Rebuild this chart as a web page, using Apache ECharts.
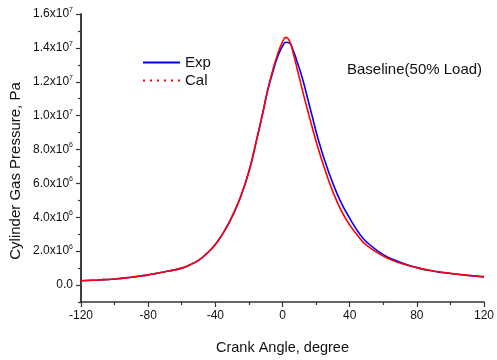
<!DOCTYPE html>
<html>
<head>
<meta charset="utf-8">
<script src="https://cdn.jsdelivr.net/npm/echarts@6/dist/echarts.min.js"></script>
<style>
html, body { margin: 0; padding: 0; background: #fff; }
#chart { width: 497px; height: 360px; }
</style>
</head>
<body>
<div id="chart"></div>
<script>
// crank angle, degree
var angles = [-120, -110, -100, -90, -85, -80, -75, -70, -65, -60, -55, -50, -45, -40, -35, -30, -25, -20, -15, -12, -9, -6, -3,
    0, 2, 4, 6, 9, 12, 15, 18, 21, 25, 30, 35, 40, 45, 50, 60, 70, 80, 90, 100, 110, 120];
// cylinder pressure, x10^6 Pa
var expVals = [0.25, 0.30, 0.36, 0.46, 0.53, 0.60, 0.69, 0.79, 0.88, 1.00, 1.20, 1.46, 1.87, 2.40, 3.12, 4.05, 5.2, 6.7, 8.75, 10.05, 11.4, 12.5, 13.45,
    14.1, 14.33, 14.3, 13.95, 13.1, 12.15, 11.0, 9.85, 8.7, 7.4, 6.0, 4.85, 3.95, 3.15, 2.55, 1.8, 1.35, 1.03, 0.82, 0.68, 0.57, 0.48];
var calVals = [0.25, 0.30, 0.36, 0.46, 0.53, 0.60, 0.69, 0.79, 0.88, 1.00, 1.20, 1.46, 1.87, 2.40, 3.12, 4.05, 5.2, 6.7, 8.75, 10.05, 11.45, 12.6, 13.6,
    14.35, 14.62, 14.45, 13.85, 12.65, 11.45, 10.3, 9.2, 8.15, 6.9, 5.5, 4.4, 3.55, 2.9, 2.35, 1.72, 1.3, 1.03, 0.83, 0.69, 0.58, 0.50];
var yMajor = [0, 2e6, 4e6, 6e6, 8e6, 1e7, 1.2e7, 1.4e7, 1.6e7];
var yMinor = [-1e6, 1e6, 3e6, 5e6, 7e6, 9e6, 1.1e7, 1.3e7, 1.5e7];

var font = 'Liberation Sans, Arial, sans-serif';
var axisColor = '#333';

function pairs(vals) {
    return angles.map(function (a, i) { return [a, vals[i] * 1e6]; });
}

// 1.6x10^7 style labels
function sciLabel(v) {
    if (v === 0) return '{a|0.0}';
    var e = Math.floor(Math.log10(v) + 1e-9);
    var m = v / Math.pow(10, e);
    return '{a|' + m.toFixed(1) + 'x10}{s|' + e + '}';
}

var chart = echarts.init(document.getElementById('chart'));
var option = {
    animation: false,
    grid: { left: 81, right: 10, top: 14, bottom: 48 },
    legend: {
        left: 137,
        top: 50,
        orient: 'vertical',
        itemWidth: 37,
        itemHeight: 10,
        itemGap: 3,
        itemStyle: { opacity: 0 },
        textStyle: { fontFamily: font, fontSize: 15, color: '#111' },
        data: [
            { name: 'Exp' },
            { name: 'Cal', lineStyle: { type: [2, 5] } }
        ]
    },
    xAxis: {
        type: 'value',
        min: -120,
        max: 120,
        interval: 40,
        name: 'Crank Angle, degree',
        nameLocation: 'middle',
        nameGap: 38,
        nameTextStyle: { fontFamily: font, fontSize: 14.5, color: '#111' },
        axisLine: { show: true, onZero: false, lineStyle: { color: axisColor, width: 1.5 } },
        axisTick: { show: true, length: 5, lineStyle: { color: axisColor, width: 1.2 } },
        minorTick: { show: true, splitNumber: 2, length: 3, lineStyle: { color: axisColor, width: 1.2 } },
        axisLabel: { fontFamily: font, fontSize: 12, color: '#111', margin: 8 },
        splitLine: { show: false },
        minorSplitLine: { show: false }
    },
    yAxis: [{
        type: 'value',
        min: -1e6,
        max: 1.6e7,
        axisLine: { show: true, onZero: false, lineStyle: { color: axisColor, width: 1.5 } },
        axisTick: { show: true, length: 5, customValues: yMajor, lineStyle: { color: axisColor, width: 1.2 } },
        axisLabel: {
            customValues: yMajor,
            margin: 8,
            formatter: sciLabel,
            rich: {
                a: { fontFamily: font, fontSize: 12, color: '#111' },
                s: { fontFamily: font, fontSize: 7, color: '#111', verticalAlign: 'top', padding: [0, 0, 8, 0] }
            }
        },
        splitLine: { show: false }
    }, {
        // minor ticks on the odd millions
        type: 'value',
        min: -1e6,
        max: 1.6e7,
        position: 'left',
        offset: 0,
        axisLine: { show: true, onZero: false, lineStyle: { color: axisColor, width: 1.5 } },
        axisTick: { show: true, length: 3, customValues: yMinor, lineStyle: { color: axisColor, width: 1.2 } },
        axisLabel: { show: false },
        splitLine: { show: false }
    }],
    graphic: [{
        type: 'text',
        left: 347,
        top: 62,
        style: { text: 'Baseline(50% Load)', font: '15px ' + font, fill: '#111' }
    }, {
        type: 'text',
        x: 16,
        y: 171,
        rotation: Math.PI / 2,
        style: {
            text: 'Cylinder Gas Pressure, Pa',
            font: '15px ' + font,
            fill: '#111',
            align: 'center',
            verticalAlign: 'middle'
        }
    }],
    series: [{
        name: 'Exp',
        type: 'line',
        smooth: true,
        symbol: 'none',
        data: pairs(expVals),
        lineStyle: { color: '#0000ff', width: 1.6 },
        itemStyle: { color: '#0000ff' },
        z: 2
    }, {
        name: 'Cal',
        type: 'line',
        smooth: true,
        symbol: 'none',
        data: pairs(calVals),
        lineStyle: { color: '#ff0000', width: 1.6 },
        itemStyle: { color: '#ff0000' },
        z: 3
    }]
};
chart.setOption(option);
</script>
</body>
</html>
